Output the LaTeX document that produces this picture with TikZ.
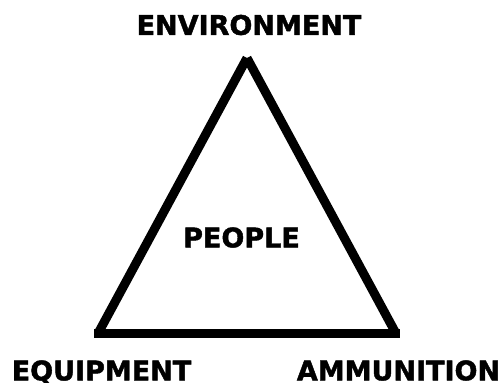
\documentclass[tikz,border=0pt]{standalone}
\usepackage{fontspec}
\setmainfont{DejaVu Sans}
\newfontfamily\heavyfont{DejaVu Sans}[BoldFont={DejaVu Sans Bold}, BoldFeatures={FakeBold=1.6}]
\begin{document}
\begin{tikzpicture}[x=1pt,y=1pt,
  lbl/.style={font=\heavyfont\bfseries\fontsize{27}{27}\selectfont, inner sep=0pt, text height=19.7pt, text depth=0pt, anchor=center},
  side/.style={line width=9pt, line cap=butt, black}]
\useasboundingbox (0,0) rectangle (504,383);
\coordinate (top) at (247,325);
\coordinate (bl) at (98,49.5);
\coordinate (br) at (396,49.5);
\coordinate (bl2) at (94,49.5);
\coordinate (br2) at (400,49.5);
\draw[side] (bl) -- (top);
\draw[side] (br) -- (top);
\draw[side] (bl2) -- (br2);
\node[lbl] (env) at (249,358) {ENVIRONMENT};
\node[lbl] (ppl) at (241.5,145.5) {PEOPLE};
\node[lbl] (equ) at (101.5,12.5) {EQUIPMENT};
\node[lbl] (amm) at (398.5,12.5) {AMMUNITION};
\end{tikzpicture}
\end{document}
